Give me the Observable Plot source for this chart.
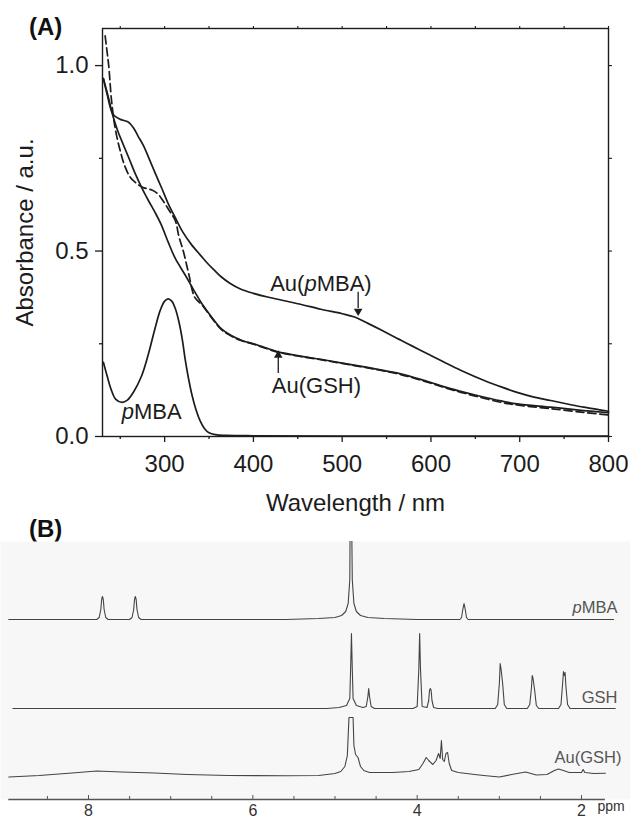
<!DOCTYPE html>
<html>
<head>
<meta charset="utf-8">
<script src="https://cdn.jsdelivr.net/npm/d3@7"></script>
<script src="https://cdn.jsdelivr.net/npm/@observablehq/plot@0.6"></script>
<style>
  body { margin: 0; background: #fff; font-family: "Liberation Sans", Arial, sans-serif; }
  #wrap { position: relative; width: 630px; height: 818px; overflow: hidden; background: #fff; }
  .panel { position: absolute; left: 0; }
  .tag { position: absolute; font-weight: bold; font-size: 24px; line-height: 24px; color: #111; }
</style>
</head>
<body>
<div id="wrap">
  <div class="tag" style="left:29px; top:15px;">(A)</div>
  <div class="tag" style="left:29px; top:517px;">(B)</div>
  <div id="panelA" class="panel" style="top:0px;"></div>
  <div id="panelB" class="panel" style="top:541px;"></div>
</div>
<script>
// ---------------- Panel A: UV-vis absorbance ----------------
const xTicksA = [300, 400, 500, 600, 700, 800];
const xMinorA = [250, 350, 450, 550, 650, 750];
const yTicksA = [0, 0.5, 1.0];
const yMinorA = [0.25, 0.75];

// [wavelength nm, absorbance]
const auPMBA = [
  [231,0.965],[235,0.925],[242,0.868],[250,0.855],[259,0.848],[265,0.832],[270,0.810],
  [276,0.785],[282,0.752],[289,0.712],[297,0.668],[304,0.628],[312,0.590],[320,0.553],
  [330,0.518],[341,0.487],[349,0.465],[357,0.446],[364,0.430],[373,0.414],[386,0.397],
  [400,0.386],[416,0.376],[435,0.366],[454,0.356],[476,0.343],[500,0.331],[514,0.322],
  [529,0.305],[544,0.287],[559,0.268],[578,0.245],[596,0.223],[615,0.200],[634,0.178],
  [660,0.151],[680,0.133],[697,0.119],[715,0.107],[735,0.097],[755,0.087],[772,0.079],
  [790,0.072],[800,0.068]
];
const auGSH = [
  [231,0.965],[236,0.920],[242,0.862],[247,0.825],[252,0.795],[259,0.755],[267,0.708],
  [275,0.667],[282,0.635],[289,0.605],[296,0.572],[304,0.524],[312,0.480],[323,0.436],
  [332,0.398],[342,0.358],[352,0.325],[364,0.290],[375,0.272],[387,0.259],[400,0.250],
  [409,0.243],[428,0.228],[450,0.218],[476,0.208],[500,0.198],[510,0.194],[540,0.181],
  [566,0.169],[594,0.150],[622,0.129],[650,0.112],[679,0.096],[697,0.088],[735,0.079],
  [772,0.070],[800,0.064]
];
const auGSHdashed = [
  [233,1.08],[235,1.04],[237,1.00],[240,0.91],[243,0.85],[246,0.81],[250,0.77],[255,0.73],
  [261,0.70],[267,0.685],[275,0.672],[285,0.665],[292,0.655],[298,0.636],[305,0.610],
  [312,0.582],[316,0.540],[321,0.500],[327,0.440],[334,0.375],[342,0.355],[352,0.323],
  [364,0.288],[375,0.271],[387,0.258],[400,0.249],[428,0.227],[450,0.217],[476,0.207],
  [500,0.197],[540,0.180],[566,0.167],[594,0.148],[622,0.127],[650,0.109],[679,0.092],
  [697,0.085],[735,0.075],[772,0.065],[800,0.058]
];
const pMBAuv = [
  [231,0.200],[235,0.165],[240,0.125],[245,0.100],[252,0.092],[258,0.098],[265,0.120],
  [274,0.163],[282,0.225],[289,0.290],[295,0.340],[300,0.365],[304,0.371],[308,0.365],
  [312,0.345],[316,0.310],[320,0.260],[323,0.210],[327,0.155],[331,0.110],[335,0.075],
  [340,0.042],[345,0.021],[350,0.010],[357,0.005],[370,0.003],[400,0.002],[500,0.001],
  [800,0.001]
];
const arrowDown = [518]; // Au(pMBA) marker wavelength
const arrowUp = [428];   // Au(GSH) marker wavelength

// ---------------- Panel B: 1H NMR ----------------
const ppmMajor = [8, 6, 4, 2];
const ppmMinor = [8.5, 7.5, 7, 6.5, 5.5, 5, 4.5, 3.5, 3, 2.5];
const nmrNames = ["pMBA", "GSH", "Au(GSH)"];
const nmrOffsets = [180, 91, 24];
// [ppm, intensity]
const nmrPMBA = [
  [8.97,0],[7.90,0],[7.87,2],[7.85,10],[7.84,20],[7.83,23],[7.82,20],[7.81,10],[7.79,2],
  [7.76,0],[7.50,0],[7.47,2],[7.45,10],[7.44,20],[7.43,23],[7.42,20],[7.41,10],[7.39,2],
  [7.36,0],[5.60,0],[5.20,1],[5.00,2],[4.92,4],[4.87,8],[4.84,16],[4.82,40],[4.815,120],
  [4.80,120],[4.79,40],[4.77,16],[4.74,8],[4.69,4],[4.60,2],[4.40,1],[4.00,0],[3.48,0],
  [3.46,2],[3.445,10],[3.43,16],[3.415,10],[3.40,2],[3.38,0],[1.61,0]
];
const nmrGSH = [
  [8.92,0],[5.10,0],[4.95,1],[4.86,3],[4.82,10],[4.81,40],[4.80,75],[4.79,40],[4.78,10],
  [4.74,3],[4.66,1],[4.62,2],[4.60,12],[4.59,20],[4.58,12],[4.56,2],[4.52,0],[4.05,0],
  [4.00,2],[3.98,40],[3.97,75],[3.96,40],[3.94,2],[3.88,1],[3.86,8],[3.85,18],[3.84,20],
  [3.83,18],[3.82,8],[3.80,1],[3.75,0],[3.05,0],[3.02,4],[3.00,25],[2.99,45],[2.98,40],
  [2.96,25],[2.94,4],[2.91,0],[2.66,0],[2.63,4],[2.61,20],[2.60,33],[2.59,30],[2.57,18],
  [2.55,3],[2.52,0],[2.28,0],[2.25,4],[2.23,25],[2.22,37],[2.21,33],[2.20,36],[2.19,22],
  [2.17,4],[2.14,0],[1.59,0]
];
const nmrAuGSH = [
  [8.97,-1.5],[8.60,0],[8.20,2.5],[7.90,4.5],[7.60,3.5],[7.20,2.5],[6.80,1],[6.30,0],
  [5.60,-0.3],[5.20,0],[5.00,2],[4.93,4],[4.88,9],[4.85,20],[4.83,58],[4.78,58],[4.77,30],
  [4.75,21],[4.72,18],[4.69,9],[4.65,5],[4.58,3],[4.30,3],[4.10,4],[3.98,6],[3.93,12],
  [3.89,18],[3.86,15],[3.81,11],[3.77,15],[3.74,22],[3.72,17],[3.705,35],[3.69,16],
  [3.67,14],[3.65,22],[3.63,23],[3.61,12],[3.58,5],[3.50,3],[3.30,1],[3.19,0],[3.00,-1.5],
  [2.85,1],[2.68,3.5],[2.55,0.5],[2.42,1],[2.33,5],[2.28,6.5],[2.22,5],[2.15,3],[2.00,3],
  [1.98,6],[1.96,3],[1.85,2],[1.71,2.3]
];

const FONT = "Liberation Sans, Arial, sans-serif";
const INK = "#1c1c1c";

const plotA = Plot.plot({
  width: 630, height: 530,
  marginLeft: 102, marginRight: 22, marginTop: 28, marginBottom: 94,
  style: {fontFamily: FONT, color: INK, background: "transparent", overflow: "visible"},
  x: {domain: [230, 800], label: null},
  y: {domain: [0, 1.1], label: null},
  marks: [
    Plot.axisX(xTicksA, {anchor: "bottom", tickSize: 6, tickPadding: 12, fontSize: 24, strokeWidth: 1.3, label: null}),
    Plot.axisX(xMinorA, {anchor: "bottom", tickSize: 3, tickFormat: () => "", strokeWidth: 1.3, label: null}),
    Plot.axisX(xTicksA.concat(xMinorA), {anchor: "top", tickSize: 3, tickFormat: () => "", strokeWidth: 1.1, label: null}),
    Plot.axisY(yTicksA, {anchor: "left", tickSize: 7, tickPadding: 7, fontSize: 24, tickFormat: d3.format(".1f"), strokeWidth: 1.3, label: null}),
    Plot.axisY(yMinorA, {anchor: "left", tickSize: 3, tickFormat: () => "", strokeWidth: 1.3, label: null}),
    Plot.axisY(yTicksA.concat(yMinorA), {anchor: "right", tickSize: 3, tickFormat: () => "", strokeWidth: 1.1, label: null}),
    Plot.frame({stroke: INK, strokeWidth: 1.4}),
    Plot.line(pMBAuv, {x: d => d[0], y: d => d[1], stroke: INK, strokeWidth: 1.7, curve: "catmull-rom"}),
    Plot.line(auGSHdashed, {x: d => d[0], y: d => d[1], stroke: INK, strokeWidth: 1.7, strokeDasharray: "8,4", curve: "catmull-rom"}),
    Plot.line(auGSH, {x: d => d[0], y: d => d[1], stroke: INK, strokeWidth: 1.7, curve: "catmull-rom"}),
    Plot.line(auPMBA, {x: d => d[0], y: d => d[1], stroke: INK, strokeWidth: 1.7, curve: "catmull-rom"}),
    // arrows
    Plot.ruleX(arrowDown, {x: d => d, y1: 0.389, y2: 0.345, stroke: INK, strokeWidth: 1.3}),
    Plot.dot(arrowDown, {x: d => d, y: 0.338, symbol: "triangle", rotate: 180, r: 3.2, fill: INK, stroke: null}),
    Plot.ruleX(arrowUp, {x: d => d, y1: 0.170, y2: 0.212, stroke: INK, strokeWidth: 1.3}),
    Plot.dot(arrowUp, {x: d => d, y: 0.219, symbol: "triangle", r: 3.2, fill: INK, stroke: null}),
    // labels
    Plot.text(["Au(pMBA)"], {x: 476, y: 0.3935, fontSize: 22, lineAnchor: "bottom", fill: INK}),
    Plot.text(["Au(GSH)"], {x: 471, y: 0.1186, fontSize: 22, lineAnchor: "bottom", fill: INK}),
    Plot.text(["pMBA"], {x: 285.4, y: 0.0485, fontSize: 22, lineAnchor: "bottom", fill: INK}),
    Plot.text(["Wavelength / nm"], {frameAnchor: "bottom", dy: 74, textAnchor: "middle", lineAnchor: "bottom", fontSize: 24, fill: INK}),
    Plot.text(["Absorbance / a.u."], {frameAnchor: "left", dx: -70, rotate: -90, textAnchor: "middle", lineAnchor: "bottom", fontSize: 24, fill: INK})
  ]
});

const plotB = Plot.plot({
  width: 630, height: 277,
  marginLeft: 0, marginRight: 0, marginTop: 0, marginBottom: 19,
  style: {fontFamily: FONT, color: "#444", background: "transparent", overflow: "visible"},
  x: {domain: [9.071, 1.404], label: null, axis: null},
  y: {domain: [0, 258], label: null, axis: null},
  marks: [
    Plot.frame({fill: "#f7f7f7", stroke: null}),
    Plot.ruleY([0], {x1: 8.97, x2: 1.71, stroke: "#555", strokeWidth: 1.3}),
    Plot.ruleX(ppmMinor, {x: d => d, y1: 0, y2: 3, stroke: "#555", strokeWidth: 1}),
    Plot.ruleX(ppmMajor, {x: d => d, y1: 0, y2: 4, stroke: "#555", strokeWidth: 1}),
    Plot.text(ppmMajor, {x: d => d, text: d => String(d), frameAnchor: "bottom", dy: 5, lineAnchor: "top", fontSize: 16, fill: "#333"}),
    Plot.text(["ppm"], {x: 1.805, frameAnchor: "bottom", dy: 11.5, textAnchor: "start", lineAnchor: "bottom", fontSize: 14, fill: "#333"}),
    Plot.line(nmrPMBA, {x: d => d[0], y: d => d[1] + nmrOffsets[0], stroke: "#444", strokeWidth: 1.1, clip: true}),
    Plot.line(nmrGSH, {x: d => d[0], y: d => d[1] + nmrOffsets[1], stroke: "#444", strokeWidth: 1.1, clip: true}),
    Plot.line(nmrAuGSH, {x: d => d[0], y: d => d[1] + nmrOffsets[2], stroke: "#444", strokeWidth: 1.1, clip: true}),
    Plot.text([nmrNames[0]], {x: 1.562, y: nmrOffsets[0] + 12, textAnchor: "end", lineAnchor: "middle", fontSize: 16.5, fill: "#555"}),
    Plot.text([nmrNames[1]], {x: 1.562, y: nmrOffsets[1] + 11, textAnchor: "end", lineAnchor: "middle", fontSize: 16.5, fill: "#555"}),
    Plot.text([nmrNames[2]], {x: 1.513, y: nmrOffsets[2] + 18, textAnchor: "end", lineAnchor: "middle", fontSize: 16.5, fill: "#555"})
  ]
});

document.getElementById("panelA").appendChild(plotA);
document.getElementById("panelB").appendChild(plotB);

// italic "p" in pMBA labels
const SVGNS = "http://www.w3.org/2000/svg";
document.querySelectorAll("svg text").forEach(t => {
  const s = t.textContent;
  const i = s.indexOf("pMBA");
  if (i >= 0 && t.children.length === 0) {
    t.textContent = "";
    if (i > 0) t.appendChild(document.createTextNode(s.slice(0, i)));
    const ts = document.createElementNS(SVGNS, "tspan");
    ts.setAttribute("font-style", "italic");
    ts.textContent = "p";
    t.appendChild(ts);
    t.appendChild(document.createTextNode(s.slice(i + 1)));
  }
});
</script>
</body>
</html>
